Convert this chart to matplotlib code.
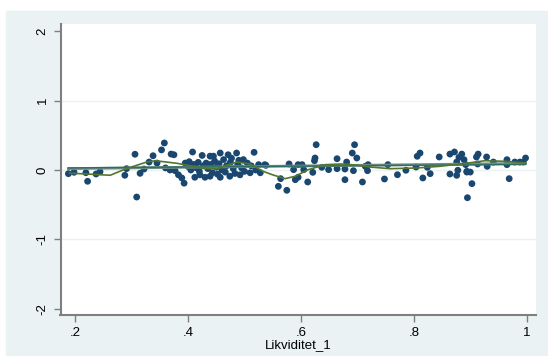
import matplotlib.pyplot as plt
from matplotlib.patches import Rectangle

plt.rcParams["font.family"] = ["Liberation Sans", "DejaVu Sans"]

# scatter data
liq_x = [
    0.188, 0.198, 0.219, 0.222, 0.237, 0.244, 0.288, 0.291, 0.306, 0.309,
    0.315, 0.322, 0.331, 0.338, 0.345, 0.353, 0.358, 0.370, 0.375,
    0.360, 0.368, 0.377, 0.383, 0.389, 0.393, 0.395, 0.400, 0.402, 0.405,
    0.408, 0.410, 0.412, 0.415, 0.418, 0.420, 0.421, 0.425, 0.427, 0.430,
    0.432, 0.435, 0.439, 0.439, 0.440, 0.443, 0.445, 0.447, 0.450, 0.452,
    0.455, 0.457, 0.457, 0.460, 0.463, 0.466, 0.468, 0.471, 0.474, 0.475,
    0.477, 0.480, 0.483, 0.486, 0.488, 0.490, 0.492, 0.495, 0.498, 0.500,
    0.505, 0.510, 0.512, 0.517, 0.520, 0.525, 0.528, 0.536,
    0.538, 0.560, 0.564, 0.575, 0.579, 0.587, 0.590, 0.595, 0.595, 0.602,
    0.605, 0.612, 0.621, 0.624, 0.625, 0.627, 0.637, 0.649, 0.664, 0.664,
    0.678, 0.678, 0.681, 0.691, 0.693, 0.695, 0.699, 0.709, 0.714, 0.718,
    0.719, 0.748, 0.754, 0.771, 0.786, 0.804, 0.806, 0.811, 0.816, 0.824,
    0.829, 0.845, 0.864, 0.864, 0.872, 0.876, 0.876, 0.878, 0.880, 0.885,
    0.889, 0.892, 0.894, 0.894, 0.895, 0.900, 0.903, 0.911, 0.913, 0.914,
    0.929, 0.930, 0.941, 0.965, 0.965, 0.969, 0.979, 0.988, 0.994, 0.998,
]
resid_y = [
    -0.053, -0.033, -0.039, -0.163, -0.058, -0.025, -0.076, 0.019, 0.227, -0.390,
    -0.048, 0.014, 0.115, 0.206, 0.100, 0.290, 0.390, 0.230, 0.220,
    0.030, 0.000, -0.010, -0.070, -0.115, -0.190, 0.100, 0.050, 0.120, 0.000,
    0.260, 0.080, -0.105, 0.030, 0.110, -0.020, -0.070, 0.210, 0.060, -0.105,
    0.100, 0.020, 0.200, -0.090, 0.080, -0.040, 0.200, 0.130, 0.040, -0.060,
    0.090, 0.245, -0.105, 0.000, 0.150, -0.030, 0.060, 0.220, -0.090, 0.110,
    0.170, 0.020, -0.050, 0.245, 0.080, 0.140, -0.070, 0.030, 0.150, -0.020,
    0.100, -0.040, 0.060, 0.255, 0.000, 0.077, -0.040, 0.077,
    0.067, -0.236, -0.125, -0.293, 0.087, 0.005, -0.140, 0.077, -0.105, 0.077,
    0.005, -0.173, -0.034, 0.134, 0.173, 0.365, 0.039, 0.005, 0.163, 0.019,
    0.014, -0.140, 0.115, 0.245, -0.010, 0.365, 0.173, -0.173, 0.053, -0.010,
    0.077, -0.130, 0.077, -0.068, -0.004, 0.043, 0.198, 0.245, -0.115, 0.039,
    -0.053, 0.188, 0.230, -0.058, 0.260, 0.115, -0.077, -0.004, 0.183, 0.230,
    0.149, 0.077, -0.019, -0.030, -0.400, -0.030, -0.197, 0.188, 0.087, 0.230,
    0.188, 0.053, 0.115, 0.149, 0.077, -0.125, 0.115, 0.115, 0.115, 0.173,
]

# lowess curve
low_x = [0.19, 0.22, 0.262, 0.291, 0.327, 0.342, 0.38, 0.427, 0.451, 0.463,
         0.486, 0.51, 0.533, 0.55, 0.572, 0.59, 0.613, 0.643, 0.672, 0.700,
         0.722, 0.758, 0.805, 0.846, 0.897, 0.926, 0.962, 0.998]
low_y = [-0.045, -0.058, -0.076, 0.02, 0.115, 0.134, 0.097, 0.025, 0.014, 0.053,
         0.115, 0.087, -0.019, -0.07, -0.125, -0.09, 0.005, 0.077, 0.087, 0.07,
         0.043, 0.019, 0.029, 0.053, 0.101, 0.134, 0.125, 0.101]

# linear fit endpoints
fit_x = [0.188, 0.998]
fit_y = [0.02, 0.095]
fit2_y = [0.03, 0.08]

fig = plt.figure(figsize=(5.48, 3.56), dpi=100)
fig.add_artist(Rectangle((6 / 548, 1 / 356), 542 / 548, 344 / 356,
                         transform=fig.transFigure, color="#EAF2F3", zorder=-10))
ax = fig.add_axes([60.5 / 548, 1 - 315.3 / 356, (536 - 60.5) / 548, (315.3 - 24) / 356])
ax.set_zorder(1)
ax.set_facecolor("white")

for g in [-1, 0, 1]:
    ax.axhline(g, color="#EAF2F3", lw=1.0, zorder=1)

ax.scatter(liq_x, resid_y, s=24, color="#1A476F", edgecolors="none", zorder=3)
ax.plot(fit_x, fit_y, color="#6E8E84", lw=2.0, zorder=4)
ax.plot(fit_x, fit2_y, color="#2D6D66", lw=1.0, zorder=4)
ax.plot(low_x, low_y, color="#55752F", lw=1.2, zorder=5)

ax.set_xlim(0.174, 1.0165)
ax.set_ylim(-2.097, 2.107)
ax.set_xticks([0.2, 0.4, 0.6, 0.8, 1.0])
ax.set_xticklabels([".2", ".4", ".6", ".8", "1"])
ax.set_yticks([-2, -1, 0, 1, 2])
ax.set_yticklabels(["-2", "-1", "0", "1", "2"], rotation=90, va="center")
ax.set_xlabel("Likviditet_1", fontsize=9.5, labelpad=0)
ax.tick_params(colors="#7F7F7F", labelcolor="black", labelsize=9.5, length=5, width=1)

for side in ["top", "right"]:
    ax.spines[side].set_visible(False)
for side in ["left", "bottom"]:
    ax.spines[side].set_color("#7F7F7F")
    ax.spines[side].set_linewidth(1.5)

fig.savefig("out.png", dpi=100)
